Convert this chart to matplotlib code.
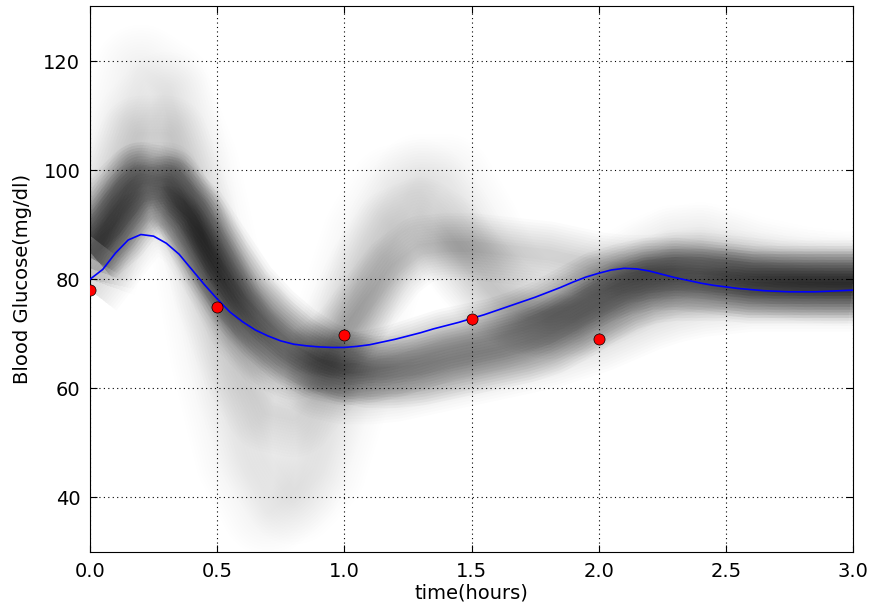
import matplotlib
matplotlib.use("Agg")
from matplotlib import pyplot as plt
import numpy as np

# sample grid for the posterior trajectories (hours)
t_samples = np.arange(31) * 0.1

# posterior sample trajectories
main_a = [88, 94, 98.5, 97.5, 91, 83, 76, 71, 67, 64.5, 63.5, 64, 65, 66.5, 68, 69,
          70, 71.5, 73.5, 76, 78.5, 80, 81, 81, 80.5, 80, 79.5, 79.5, 79.5, 79.5, 79.5]
main_b = [85, 89, 95, 96, 92, 85, 78, 73, 69, 66, 64, 63, 63, 63.5, 64.5, 65.5,
          66.5, 67.5, 69, 71.5, 74.5, 77, 78.5, 79, 79, 79, 78.5, 78.5, 78.5, 78.5, 78.5]
upper = [84, 92, 99, 99, 91, 80, 71, 66, 64, 66, 70, 76, 82, 85.5, 86, 86,
         85.5, 85, 84.5, 83.5, 82.5, 82, 82, 82.5, 82.5, 82, 81.5, 81, 81, 81, 81]
low = [78, 84, 90, 91, 87, 80, 73, 67, 63, 60.5, 59.5, 59.5, 60, 61, 62, 63,
       64, 65, 66, 67.5, 69, 71, 73, 74.5, 75.5, 76, 76.5, 76.5, 76.5, 76.5, 76.5]
mid = [82, 95, 106, 106, 93, 77, 64, 56, 55, 61, 72, 82, 89, 91, 88, 82,
       77, 74, 73, 73.5, 75, 77, 79.5, 81.5, 82, 81.5, 81, 80.5, 80, 80, 80]
wild_early = [80, 101, 118, 115, 92, 66, 47, 38, 42, 56, 74, 88, 96, 97, 91, 83,
              77, 75, 75, 76, 78, 80.5, 83, 85, 85, 83.5, 82, 81, 80.5, 80, 80]
wild_late = [80, 93, 108, 113, 101, 80, 60, 47, 40, 45, 60, 77, 90, 98, 98, 90,
             81, 76, 74, 74, 76, 79, 82, 84.5, 85.5, 84.5, 83, 82, 81, 80.5, 80]

# model fit (blue), every 0.05 h
t_fit = np.arange(61) * 0.05
fit = [80.0, 81.8, 84.8, 87.2, 88.2, 87.9, 86.6, 84.6, 81.8, 79.0,
       76.4, 74.0, 72.2, 70.7, 69.6, 68.7, 68.1, 67.8, 67.6, 67.5,
       67.5, 67.7, 68.0, 68.5, 69.0, 69.6, 70.2, 70.9, 71.5, 72.1,
       72.8, 73.5, 74.3, 75.1, 75.9, 76.7, 77.6, 78.5, 79.5, 80.4,
       81.1, 81.7, 82.0, 81.9, 81.5, 80.9, 80.3, 79.8, 79.3, 78.9,
       78.6, 78.3, 78.1, 77.9, 77.8, 77.7, 77.7, 77.7, 77.8, 77.9, 78.0]

# measurements
t_obs = [0.0, 0.5, 1.0, 1.5, 2.0]
glucose_obs = [78.0, 75.0, 69.8, 72.8, 69.0]

plt.rcParams["font.size"] = 14
fig = plt.figure(figsize=(8.69, 6.07), dpi=100)
ax = fig.add_axes([0.1036, 0.0906, 0.878, 0.8987])

# Stack fat translucent strokes to get the smoky band
families = [(main_a, 0.026, 56), (main_b, 0.026, 56), (upper, 0.016, 52),
            (low, 0.013, 52), (mid, 0.006, 62), (wild_early, 0.004, 70),
            (wild_late, 0.004, 70)]
for curve, alpha, widest in families:
    for lw in range(8, widest, 4):
        ax.plot(t_samples, curve, color="k", alpha=alpha, lw=lw,
                solid_capstyle="butt", solid_joinstyle="round", zorder=1)

ax.plot(t_fit, fit, color="b", lw=1.2, zorder=3)
ax.plot(t_obs, glucose_obs, "o", color="r", mec="k", mew=0.5, ms=8, zorder=4)

ax.set_xlim(0, 3)
ax.set_ylim(30, 130)
ax.set_xticks(np.arange(0, 3.01, 0.5))
ax.set_yticks([40, 60, 80, 100, 120])
ax.grid(True, color="k", linestyle=(0, (1, 3)), linewidth=0.8)
ax.tick_params(direction="in", top=True, right=True, length=5, pad=7)
ax.set_xlabel("time(hours)", labelpad=2)
ax.set_ylabel("Blood Glucose(mg/dl)", labelpad=8)

fig.savefig("out.png", dpi=100)
